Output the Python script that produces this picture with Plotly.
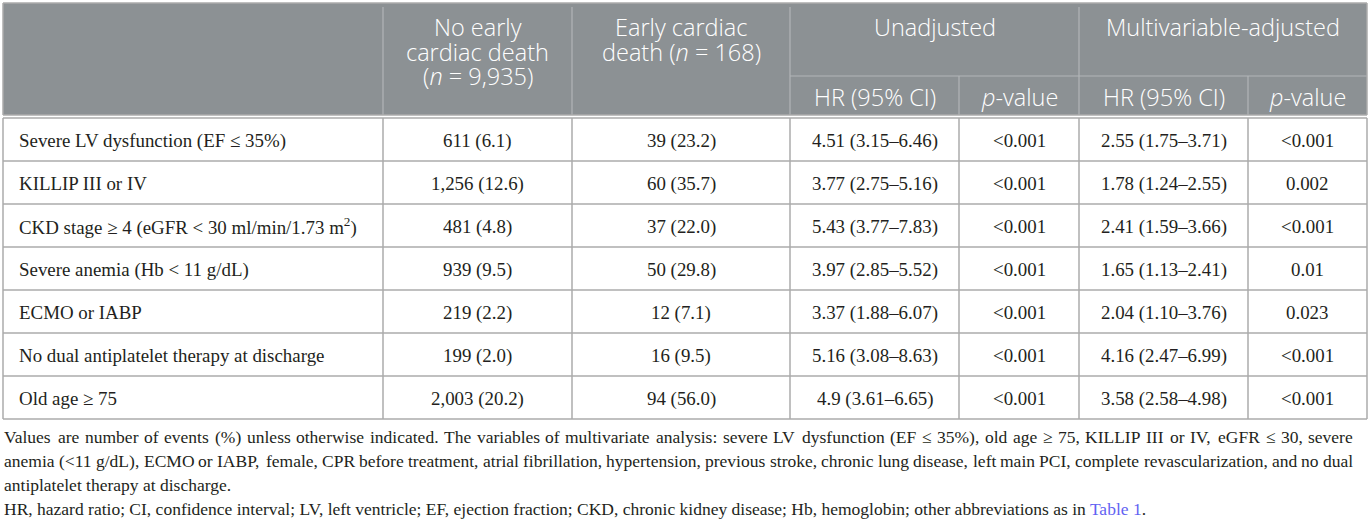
import plotly.graph_objects as go

# ---------------- data ----------------
row_labels = [
    "Severe LV dysfunction (EF ≤ 35%)",
    "KILLIP III or IV",
    "CKD stage ≥ 4 (eGFR < 30 ml/min/1.73 m<sup>2</sup>)",
    "Severe anemia (Hb < 11 g/dL)",
    "ECMO or IABP",
    "No dual antiplatelet therapy at discharge",
    "Old age ≥ 75",
]
no_early_death = ["611 (6.1)", "1,256 (12.6)", "481 (4.8)", "939 (9.5)",
                  "219 (2.2)", "199 (2.0)", "2,003 (20.2)"]
early_death = ["39 (23.2)", "60 (35.7)", "37 (22.0)", "50 (29.8)",
               "12 (7.1)", "16 (9.5)", "94 (56.0)"]
unadj_hr = ["4.51 (3.15–6.46)", "3.77 (2.75–5.16)", "5.43 (3.77–7.83)",
            "3.97 (2.85–5.52)", "3.37 (1.88–6.07)", "5.16 (3.08–8.63)",
            "4.9 (3.61–6.65)"]
unadj_p = ["<0.001"] * 7
adj_hr = ["2.55 (1.75–3.71)", "1.78 (1.24–2.55)", "2.41 (1.59–3.66)",
          "1.65 (1.13–2.41)", "2.04 (1.10–3.76)", "4.16 (2.47–6.99)",
          "3.58 (2.58–4.98)"]
adj_p = ["<0.001", "0.002", "<0.001", "0.01", "0.023", "<0.001", "<0.001"]

header_col1 = ["No early", "cardiac death", "(<i>n</i> = 9,935)"]
header_col2 = ["Early cardiac", "death (<i>n</i> = 168)"]
group_headers = ["Unadjusted", "Multivariable-adjusted"]
sub_headers = ["HR (95% CI)", "<i>p</i>-value", "HR (95% CI)", "<i>p</i>-value"]

footnote_lines = [
    "Values are number of events (%) unless otherwise indicated. The variables of multivariate analysis: severe LV dysfunction (EF ≤ 35%), old age ≥ 75, KILLIP III or IV, eGFR ≤ 30, severe",
    "anemia (<11 g/dL), ECMO or IABP, female, CPR before treatment, atrial fibrillation, hypertension, previous stroke, chronic lung disease, left main PCI, complete revascularization, and no dual",
    "antiplatelet therapy at discharge.",
    "HR, hazard ratio; CI, confidence interval; LV, left ventricle; EF, ejection fraction; CKD, chronic kidney disease; Hb, hemoglobin; other abbreviations as in <span style='color:#6262f2'>Table 1</span>.",
]
justified = [True, True, False, False]

# ---------------- layout constants ----------------
W, H = 1370, 522
col_edges = [3, 383, 572, 790, 959, 1079, 1248, 1367]
top, sub_div, head_bot, body_top, row_h = 3, 76, 115, 118, 43
n_rows = len(row_labels)
body_bot = body_top + row_h * n_rows

HEAD_BG = "#8c9194"
HEAD_LINE = "#b2b5b7"
BODY_LINE = "#ababab"
TXT = "#231f20"
SANS = "'Open Sans', 'Noto Sans', sans-serif"
SERIF = "'Liberation Serif', 'DejaVu Serif', serif"

# Times / Liberation Serif advance widths (em/1000) for justification
_tw = {' ': 250, '!': 333, '%': 833, '(': 333, ')': 333, ',': 250, '-': 333, '.': 250,
       '/': 278, ':': 278, ';': 278, '<': 564, '=': 564, '>': 564, '≤': 549, '≥': 549,
       'A': 722, 'B': 667, 'C': 667, 'D': 722, 'E': 611, 'F': 556, 'G': 722, 'H': 722,
       'I': 333, 'J': 389, 'K': 722, 'L': 611, 'M': 889, 'N': 722, 'O': 722, 'P': 556,
       'Q': 722, 'R': 667, 'S': 556, 'T': 611, 'U': 722, 'V': 722, 'W': 944, 'X': 722,
       'Y': 722, 'Z': 611, 'a': 444, 'b': 500, 'c': 444, 'd': 500, 'e': 444, 'f': 333,
       'g': 500, 'h': 500, 'i': 278, 'j': 278, 'k': 500, 'l': 278, 'm': 778, 'n': 500,
       'o': 500, 'p': 500, 'q': 500, 'r': 333, 's': 389, 't': 278, 'u': 500, 'v': 500,
       'w': 722, 'x': 500, 'y': 500, 'z': 444}


def tw(s, size):
    return sum(_tw.get(c, 500) for c in s) / 1000.0 * size


shapes = []
annotations = []


def line(x0, y0, x1, y1, color, width=1.3):
    shapes.append(dict(type="line", x0=x0, y0=y0, x1=x1, y1=y1,
                       xref="x", yref="y", line=dict(color=color, width=width)))


def text(x, y, s, size, color, family, anchor="center", weight=None):
    f = dict(size=size, color=color, family=family)
    if weight:
        f["weight"] = weight
    annotations.append(dict(x=x, y=y, xref="x", yref="y", text=s, showarrow=False,
                            xanchor=anchor, yanchor="middle", borderpad=0, font=f))


# header background
shapes.append(dict(type="rect", x0=col_edges[0], y0=top, x1=col_edges[-1], y1=head_bot,
                   xref="x", yref="y", fillcolor=HEAD_BG, line=dict(width=0), layer="below"))
# header separators
for xe in (col_edges[1], col_edges[2], col_edges[3], col_edges[5]):
    line(xe, top + 4, xe, head_bot, HEAD_LINE, 1.2)
for xe in (col_edges[4], col_edges[6]):
    line(xe, sub_div, xe, head_bot, HEAD_LINE, 1.2)
line(col_edges[3], sub_div, col_edges[-1], sub_div, HEAD_LINE, 1.2)

# double line under header
line(col_edges[0], head_bot, col_edges[-1], head_bot, BODY_LINE, 1.5)
line(col_edges[0], body_top, col_edges[-1], body_top, BODY_LINE, 1.5)

# body grid
for i in range(1, n_rows + 1):
    y = body_top + row_h * i
    line(col_edges[0], y, col_edges[-1], y, BODY_LINE, 1.5)
for xe in col_edges:
    line(xe, body_top, xe, body_bot, BODY_LINE, 1.5)
# outer border of header
line(col_edges[0], top, col_edges[-1], top, BODY_LINE, 1.5)
line(col_edges[0], top, col_edges[0], head_bot, BODY_LINE, 1.5)
line(col_edges[-1], top, col_edges[-1], head_bot, BODY_LINE, 1.5)

centers = [(col_edges[i] + col_edges[i + 1]) / 2 for i in range(len(col_edges) - 1)]
HS = 23.5
head_y = [27, 52, 76]
for k, s in enumerate(header_col1):
    text(centers[1], head_y[k], s, HS, "white", SANS, weight=300)
for k, s in enumerate(header_col2):
    text(centers[2], head_y[k], s, HS, "white", SANS, weight=300)
text((col_edges[3] + col_edges[5]) / 2, head_y[0], group_headers[0], HS, "white", SANS, weight=300)
text((col_edges[5] + col_edges[7]) / 2, head_y[0], group_headers[1], HS, "white", SANS, weight=300)
for k, s in enumerate(sub_headers):
    text(centers[3 + k], 97, s, HS, "white", SANS, weight=300)

BS = 18.9
cols = [no_early_death, early_death, unadj_hr, unadj_p, adj_hr, adj_p]
for i in range(n_rows):
    yc = body_top + row_h * (i + 0.5) + 1
    text(col_edges[0] + 15, yc, row_labels[i], BS, TXT, SERIF, anchor="left")
    for j, colvals in enumerate(cols):
        text(centers[j + 1], yc, colvals[i], BS, TXT, SERIF)

FS = 17.5
foot_y = [437, 461, 485, 509]
left_x, right_x = 3, 1352
for k, s in enumerate(footnote_lines):
    if justified[k]:
        words = s.split(" ")
        total = sum(tw(w, FS) for w in words)
        gap = (right_x - left_x - total) / (len(words) - 1)
        x = left_x
        for w in words:
            text(x, foot_y[k], w, FS, TXT, SERIF, anchor="left")
            x += tw(w, FS) + gap
    else:
        text(left_x, foot_y[k], s, FS, TXT, SERIF, anchor="left")

fig = go.Figure()
fig.update_layout(
    width=W, height=H, margin=dict(l=0, r=0, t=0, b=0),
    paper_bgcolor="white", plot_bgcolor="white",
    xaxis=dict(range=[0, W], visible=False, fixedrange=True),
    yaxis=dict(range=[H, 0], visible=False, fixedrange=True),
    shapes=shapes, annotations=annotations, showlegend=False,
)
fig.write_html("out.html", config={"displayModeBar": False},
               post_script="document.body.style.margin='0px';document.body.style.overflow='hidden';")
